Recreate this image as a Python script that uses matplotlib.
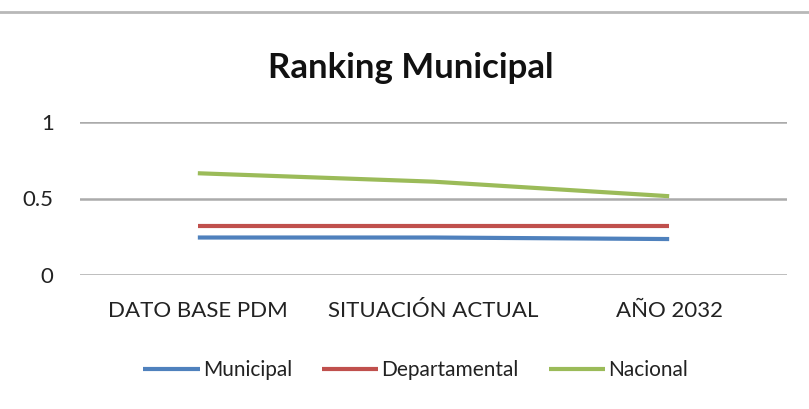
import matplotlib
matplotlib.use("Agg")
from matplotlib import pyplot as plt
from matplotlib.lines import Line2D

categorias = ["DATO BASE PDM", "SITUACIÓN ACTUAL", "AÑO 2032"]
municipal = [0.245, 0.245, 0.235]
departamental = [0.32, 0.32, 0.32]
nacional = [0.665, 0.61, 0.515]
yticks = [0, 0.5, 1]
ytick_labels = ["0", "0.5", "1"]

plt.rcParams['font.family'] = ['Lato', 'DejaVu Sans']

fig = plt.figure(figsize=(8.09, 4.09), dpi=100)
ax = fig.add_axes([80/809, 1 - 275/409, 707/809, 153/409])

x = list(range(len(categorias)))
ax.plot(x, municipal, color='#4F81BD', lw=3, label='Municipal', solid_capstyle='butt')
ax.plot(x, departamental, color='#C0504D', lw=3, label='Departamental', solid_capstyle='butt')
ax.plot(x, nacional, color='#9BBB59', lw=3, label='Nacional', solid_capstyle='butt')

ax.set_xlim(-0.5, len(categorias) - 0.5)
ax.set_ylim(0, 1)
ax.set_yticks(yticks)
ax.set_yticklabels(ytick_labels, fontsize=16, color='#222222')
ax.set_xticks(x)
ax.set_xticklabels(categorias, fontsize=16, color='#222222')
ax.tick_params(length=0)
ax.tick_params(axis='y', pad=19)
ax.tick_params(axis='x', pad=19)
ax.grid(axis='y', color='#ABABAB', lw=1.8)
ax.set_axisbelow(True)
for s in ax.spines.values():
    s.set_visible(False)

fig.text(0.508, 1 - 68/409, "Ranking Municipal", ha='center', va='center',
         fontsize=25, fontweight='bold', color='#111111')

leg = fig.legend(loc='center', bbox_to_anchor=(0.514, 1 - 370/409), ncol=3,
                 frameon=False, fontsize=15, handlelength=2.7, handletextpad=0.15,
                 columnspacing=1.45)
for t in leg.get_texts():
    t.set_color('#222222')

# borde de la pagina arriba
fig.add_artist(Line2D([0, 1], [1 - 12/409, 1 - 12/409], color='#B8B8B8', lw=2))

plt.savefig('out.png', dpi=100)
